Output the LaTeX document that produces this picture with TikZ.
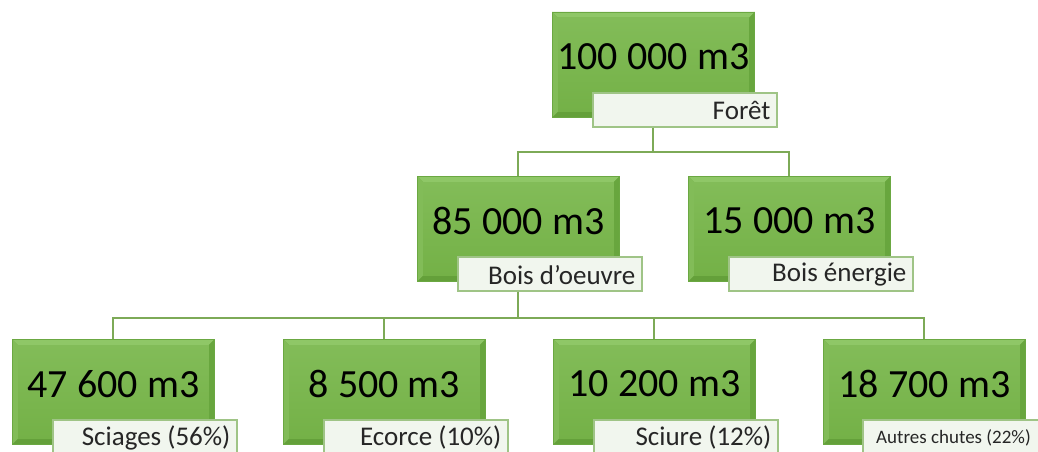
\documentclass[tikz,border=0pt]{standalone}
\usepackage{fontspec}
\setmainfont{Carlito}
\usetikzlibrary{calc}
\definecolor{gface}{HTML}{74B147}
\definecolor{gtop}{HTML}{8FC767}
\definecolor{gleft}{HTML}{82BC58}
\definecolor{gright}{HTML}{68A63E}
\definecolor{gbot}{HTML}{64A03A}
\definecolor{gedge}{HTML}{6BA842}
\definecolor{lblfill}{HTML}{F1F6EE}
\definecolor{lbledge}{HTML}{9FC486}
\definecolor{linkc}{HTML}{7DAA57}
\tikzset{
  gbox/.style={rectangle, minimum width=202pt, minimum height=105pt, inner sep=0pt, anchor=north west, fill=gface, draw=gedge, line width=0.8pt},
  lbox/.style={rectangle, minimum width=184pt, minimum height=34pt, inner sep=0pt, anchor=north west, fill=lblfill, draw=lbledge, line width=1.6pt},
  numtxt/.style={font=\fontsize{40}{42}\selectfont, text=black, inner sep=0pt},
  lbltxt/.style={font=\fontsize{27}{30}\selectfont, text=black!85, inner sep=0pt, anchor=east},
  link/.style={draw=linkc, line width=2pt}
}
% bevel drawing for a green box named #1
\newcommand\bevelbox[1]{%
  \fill[gtop] (#1.north west) -- (#1.north east) -- ($(#1.north east)+(-6,6)$) -- ($(#1.north west)+(6,6)$) -- cycle;
  \fill[gleft] (#1.north west) -- ($(#1.north west)+(6,6)$) -- ($(#1.south west)+(6,-6)$) -- (#1.south west) -- cycle;
  \fill[gright] (#1.north east) -- ($(#1.north east)+(-6,6)$) -- ($(#1.south east)+(-6,-6)$) -- (#1.south east) -- cycle;
  \fill[gbot] (#1.south west) -- ($(#1.south west)+(6,-6)$) -- ($(#1.south east)+(-6,-6)$) -- (#1.south east) -- cycle;
  \shade[top color=gleft, bottom color=gface] ($(#1.north west)+(6,6)$) rectangle ($(#1.south east)+(-6,-6)$);
  \draw[gedge, line width=0.8pt] (#1.north west) rectangle (#1.south east);
}
\newcommand\woodunit[5]{%
  \node[gbox] (#1) at (#2,#3) {};
  \bevelbox{#1}
  \node[numtxt] (#1n) at ($(#1.center)+(0,-8)$) {#4};
  \node[lbox] (#1l) at (#2+40,#3+80) {};
  \node[lbltxt] (#1t) at ($(#1l.east)+(-7,1)$) {#5};
}
\begin{document}
\begin{tikzpicture}[x=1pt,y=-1pt]
\useasboundingbox (0,0) rectangle (1038,452);
\fill[white] (0,0) rectangle (1038,452);
\woodunit{top}{552}{12}{100 000 m3}{Forêt}
\woodunit{ma}{417}{176}{85 000 m3}{Bois d’oeuvre}
\woodunit{mb}{688}{176}{15 000 m3}{Bois énergie}
\woodunit{ba}{12}{339}{47 600 m3}{Sciages (56\%)}
\woodunit{bb}{283}{339}{8 500 m3}{Ecorce (10\%)}
\woodunit{bc}{553}{339}{10 200 m3}{Sciure (12\%)}
\node[gbox] (bd) at (823,339) {};
\bevelbox{bd}
\node[numtxt] (bdn) at ($(bd.center)+(0,-8)$) {18 700 m3};
\node[lbox, minimum width=176pt] (bdl) at (862,419) {};
\node[font=\fontsize{19}{22}\selectfont, text=black!85, inner sep=0pt, anchor=west] (bdt) at ($(bdl.west)+(14,1)$) {Autres chutes (22\%)};
% connectors
\draw[link] (top.south |- topl.south) -- ++(0,24) coordinate (j1);
\draw[link] (ma.north) |- (j1) -| (mb.north);
\draw[link] (ma.south |- mal.south) -- ++(0,26) coordinate (j2);
\draw[link] (ba.north) |- (j2);
\draw[link] (bb.north) |- (j2);
\draw[link] (bc.north) |- (j2);
\draw[link] (j2) -| (bd.north);
\end{tikzpicture}
\end{document}
